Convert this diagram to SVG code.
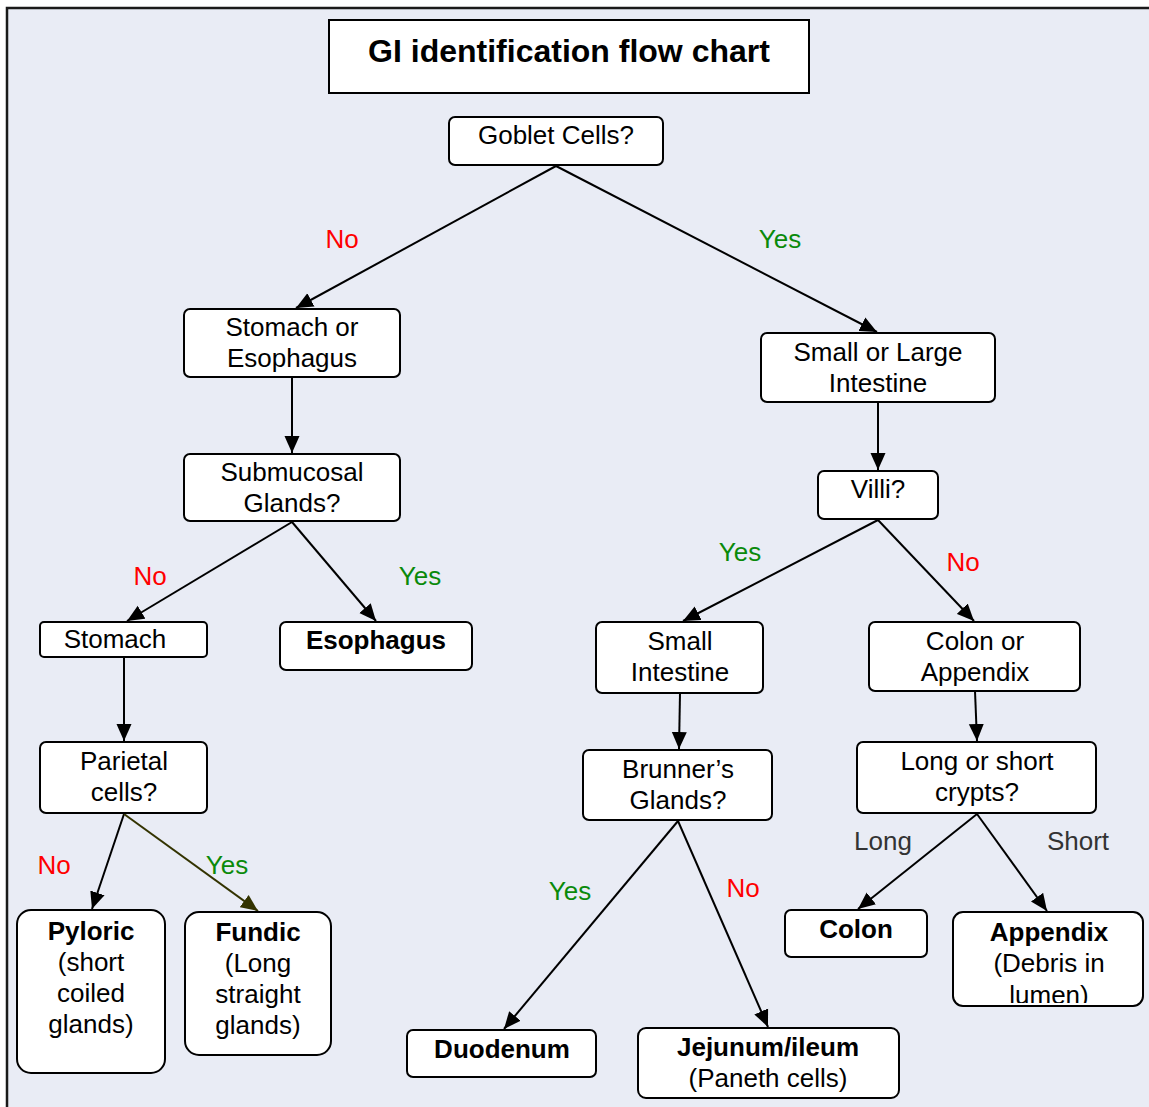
<svg xmlns="http://www.w3.org/2000/svg" width="1149" height="1107" viewBox="0 0 1149 1107">
<style>
.n rect{fill:#fff;stroke:#000;stroke-width:2}
text{font-family:"Liberation Sans",Arial,sans-serif;font-size:26px;text-anchor:middle;fill:#000}
.b{font-weight:bold}
.no{fill:#ff0000}
.yes{fill:#0a8a0a}
.ls{fill:#333}
.c line{stroke:#000;stroke-width:2;marker-end:url(#ah)}
</style>
<defs>
<marker id="ah" markerUnits="userSpaceOnUse" markerWidth="18" markerHeight="16" refX="17" refY="7.5" orient="auto" viewBox="0 0 18 15">
<path d="M0,0 L17,7.5 L0,15 z" fill="#000"/>
</marker>
<marker id="ah2" markerUnits="userSpaceOnUse" markerWidth="18" markerHeight="16" refX="17" refY="7.5" orient="auto" viewBox="0 0 18 15">
<path d="M0,0 L17,7.5 L0,15 z" fill="#333300"/>
</marker>
<clipPath id="appclip"><rect x="954" y="913" width="188" height="90"/></clipPath>
</defs>
<rect x="0" y="0" width="1149" height="1107" fill="#fff"/>
<rect x="7" y="8" width="1160" height="1120" fill="#E9ECF5" stroke="#1a1a1a" stroke-width="2.5"/>

<g class="c">
<line x1="556" y1="166" x2="296" y2="308"/>
<line x1="556" y1="166" x2="877" y2="332"/>
<line x1="292" y1="377" x2="292" y2="453"/>
<line x1="878" y1="402" x2="878" y2="470"/>
<line x1="292" y1="522" x2="127" y2="621"/>
<line x1="292" y1="522" x2="376" y2="621"/>
<line x1="878" y1="520" x2="683" y2="621"/>
<line x1="878" y1="520" x2="974" y2="621"/>
<line x1="124" y1="657" x2="124" y2="741"/>
<line x1="680" y1="693" x2="679" y2="749"/>
<line x1="975" y1="691" x2="977" y2="741"/>
<line x1="124" y1="814" x2="92" y2="909"/>
<line x1="124" y1="814" x2="258" y2="911" style="stroke:#333300;marker-end:url(#ah2)"/>
<line x1="678" y1="821" x2="504" y2="1029"/>
<line x1="678" y1="821" x2="768" y2="1027"/>
<line x1="977" y1="814" x2="858" y2="909"/>
<line x1="977" y1="814" x2="1047" y2="911"/>
</g>

<g id="title"><rect x="329" y="20" width="480" height="73" fill="#fff" stroke="#000" stroke-width="2"/><text x="569" y="62" class="b" style="font-size:32px">GI identification flow chart</text></g>
<g id="goblet" class="n"><rect x="449" y="117" width="214" height="48" rx="6"/><text x="556" y="144">Goblet Cells?</text></g>
<g id="stomach-or-esophagus" class="n"><rect x="184" y="309" width="216" height="68" rx="6"/><text x="292" y="336">Stomach or</text><text x="292" y="367">Esophagus</text></g>
<g id="small-or-large" class="n"><rect x="761" y="333" width="234" height="69" rx="6"/><text x="878" y="361">Small or Large</text><text x="878" y="392">Intestine</text></g>
<g id="submucosal" class="n"><rect x="184" y="454" width="216" height="67" rx="6"/><text x="292" y="481">Submucosal</text><text x="292" y="512">Glands?</text></g>
<g id="villi" class="n"><rect x="818" y="471" width="120" height="48" rx="6"/><text x="878" y="498">Villi?</text></g>
<g id="stomach" class="n"><rect x="40" y="622" width="167" height="35" rx="4"/><text x="115" y="648">Stomach</text></g>
<g id="esophagus" class="n"><rect x="280" y="622" width="192" height="48" rx="6"/><text x="376" y="649" class="b">Esophagus</text></g>
<g id="small-intestine" class="n"><rect x="596" y="622" width="167" height="71" rx="6"/><text x="680" y="650">Small</text><text x="680" y="681">Intestine</text></g>
<g id="colon-or-appendix" class="n"><rect x="869" y="622" width="211" height="69" rx="6"/><text x="975" y="650">Colon or</text><text x="975" y="681">Appendix</text></g>
<g id="parietal" class="n"><rect x="40" y="742" width="167" height="71" rx="6"/><text x="124" y="770">Parietal</text><text x="124" y="801">cells?</text></g>
<g id="brunners" class="n"><rect x="583" y="750" width="189" height="70" rx="6"/><text x="678" y="778">Brunner’s</text><text x="678" y="809">Glands?</text></g>
<g id="crypts" class="n"><rect x="857" y="742" width="239" height="71" rx="6"/><text x="977" y="770">Long or short</text><text x="977" y="801">crypts?</text></g>
<g id="pyloric" class="n"><rect x="17" y="910" width="148" height="163" rx="14"/><text x="91" y="940" class="b">Pyloric</text><text x="91" y="971">(short</text><text x="91" y="1002">coiled</text><text x="91" y="1033">glands)</text></g>
<g id="fundic" class="n"><rect x="185" y="912" width="146" height="143" rx="14"/><text x="258" y="941" class="b">Fundic</text><text x="258" y="972">(Long</text><text x="258" y="1003">straight</text><text x="258" y="1034">glands)</text></g>
<g id="colon" class="n"><rect x="785" y="910" width="142" height="47" rx="6"/><text x="856" y="938" class="b">Colon</text></g>
<g id="appendix" class="n"><rect x="953" y="912" width="190" height="94" rx="10"/><g clip-path="url(#appclip)"><text x="1049" y="941" class="b">Appendix</text><text x="1049" y="972">(Debris in</text><text x="1049" y="1004">lumen)</text></g></g>
<g id="duodenum" class="n"><rect x="407" y="1030" width="189" height="47" rx="6"/><text x="502" y="1058" class="b">Duodenum</text></g>
<g id="jejunum" class="n"><rect x="638" y="1028" width="261" height="70" rx="8"/><text x="768" y="1056" class="b">Jejunum/ileum</text><text x="768" y="1087">(Paneth cells)</text></g>

<g id="labels">
<text x="342" y="248" class="no">No</text>
<text x="780" y="248" class="yes">Yes</text>
<text x="150" y="585" class="no">No</text>
<text x="420" y="585" class="yes">Yes</text>
<text x="740" y="561" class="yes">Yes</text>
<text x="963" y="571" class="no">No</text>
<text x="54" y="874" class="no">No</text>
<text x="227" y="874" class="yes">Yes</text>
<text x="570" y="900" class="yes">Yes</text>
<text x="743" y="897" class="no">No</text>
<text x="883" y="850" class="ls">Long</text>
<text x="1078" y="850" class="ls">Short</text>
</g>
</svg>
